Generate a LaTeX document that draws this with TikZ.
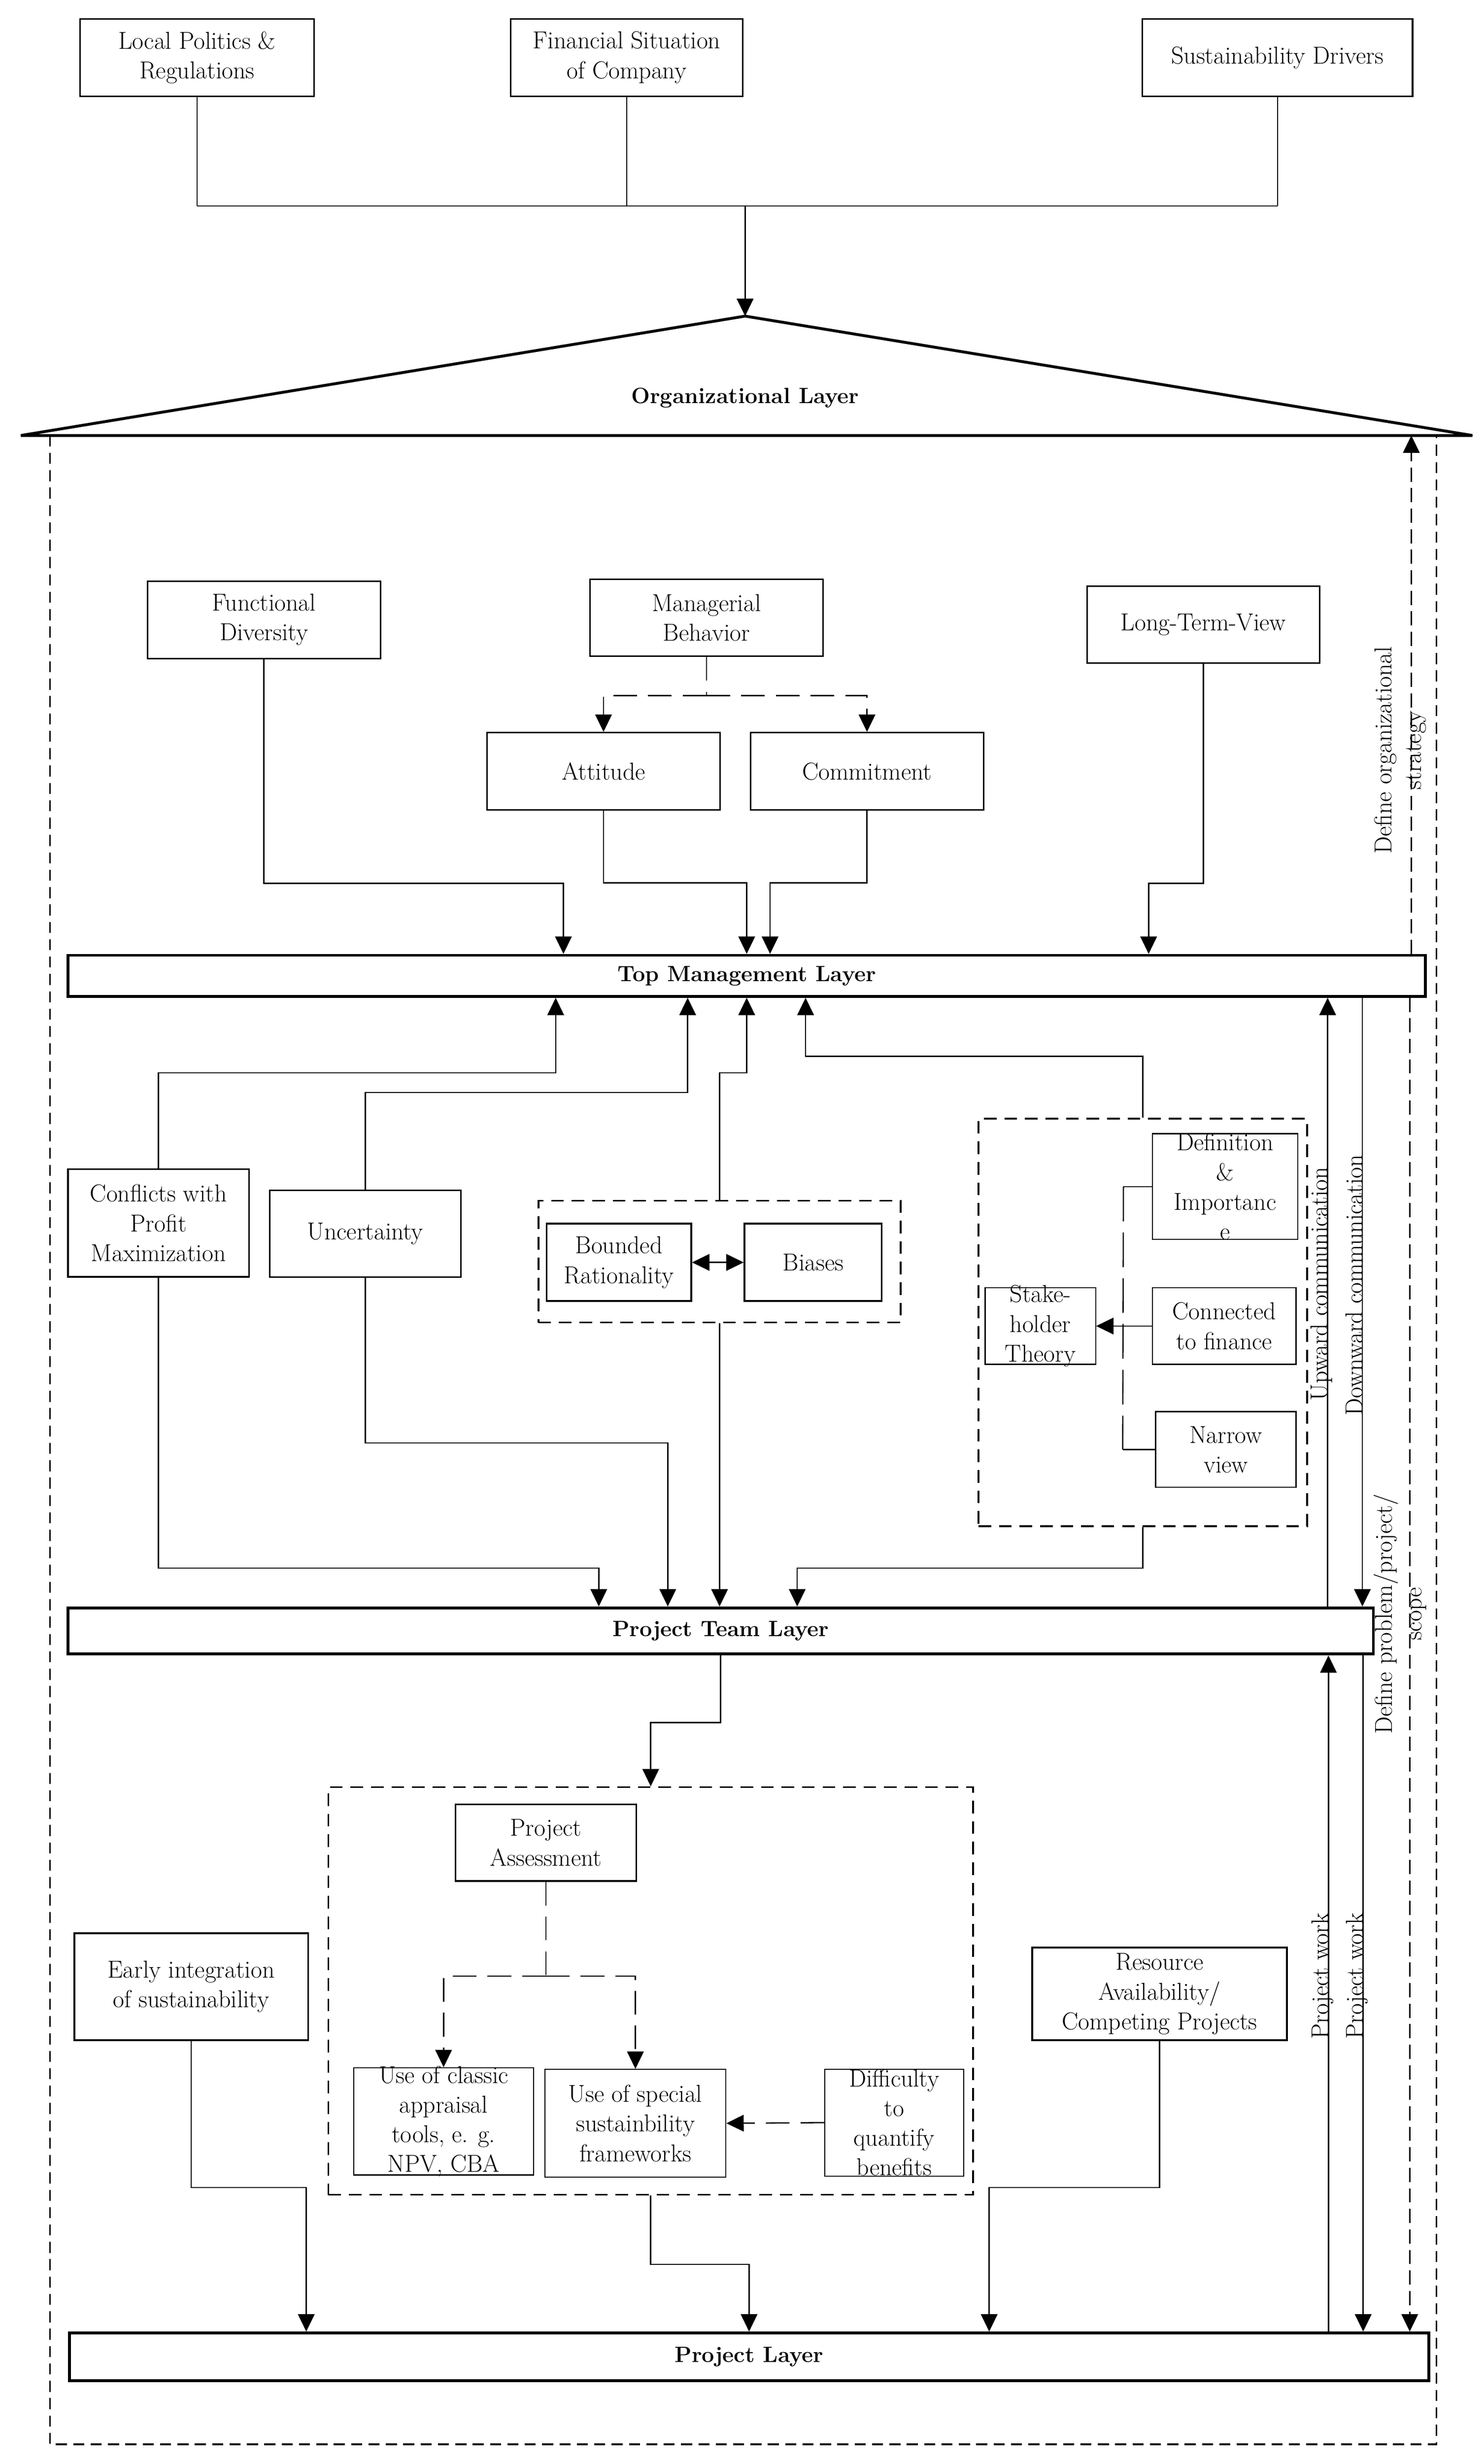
\documentclass[tikz,border=0pt]{standalone}
\usetikzlibrary{arrows.meta}
\tikzset{
  every node/.style={font=\fontsize{15.5}{18.8}\selectfont},
  box/.style={draw, line width=1pt, fill=white, align=center, inner xsep=1pt, inner ysep=0pt},
  thinbox/.style={box, line width=0.7pt},
  layerbox/.style={draw, line width=1.8pt, fill=white, inner sep=0pt, font=\fontsize{14}{17}\selectfont\bfseries},
  grp/.style={draw, line width=1.1pt, dash pattern=on 8pt off 5pt, inner sep=0pt},
  arr/.style={-{Triangle[length=11pt,width=10.5pt]}},
  link/.style={line width=0.8pt},
  longdash/.style={dash pattern=on 15pt off 7pt},
  sidedash/.style={dash pattern=on 9pt off 4pt},
  vlabel/.style={rotate=90, anchor=base, inner sep=0pt},
}
\begin{document}
\begin{tikzpicture}[x=1pt, y=-1pt]
	\useasboundingbox (0,0) rectangle (940,1560.5);
	\draw[line width=1pt, dash pattern=on 7pt off 4pt] (31.6,275.8) rectangle (910,1548);
	%
	% Organizational layer
	%
	\coordinate (apex) at (472,200.2);
	\coordinate (orgL) at (13.2,275.8);
	\coordinate (orgR) at (932.7,275.8);
	\draw[line width=1.8pt, fill=white] (orgL) -- (apex) -- (orgR) -- cycle;
	\node[font=\fontsize{14}{17}\selectfont\bfseries] (orglbl) at (472,252) {Organizational Layer};
	\node[box, minimum width=148.4pt, minimum height=49.1pt] (local) at (124.8,36.45) {Local Politics \&\\Regulations};
	\node[box, minimum width=147.1pt, minimum height=49.1pt] (fin) at (397,36.45) {Financial Situation\\of Company};
	\node[box, minimum width=171.2pt, minimum height=49.1pt] (drivers) at (809.2,36.45) {Sustainability Drivers};
	\coordinate (join) at (472,130.5);
	\foreach \n in {local,fin,drivers}{
		\draw[link] (\n.south) -- (\n.south |- join);
	}
	\draw[link] (local.south |- join) -- (drivers.south |- join);
	\draw[link, arr] (join) -- (apex);
	%
	% Top management
	%
	\node[box, minimum width=147.7pt, minimum height=49pt] (func) at (167.2,392.5) {Functional\\Diversity};
	\node[box, minimum width=147.7pt, minimum height=48.7pt] (manag) at (447.5,391.2) {Managerial\\Behavior};
	\node[box, minimum width=147.5pt, minimum height=48.6pt] (ltv) at (762.3,395.6) {Long-Term-View};
	\node[box, minimum width=147.5pt, minimum height=49pt] (att) at (382.3,488.5) {Attitude};
	\node[box, minimum width=147.6pt, minimum height=49pt] (commit) at (549.2,488.5) {Commitment};
	\node[layerbox, minimum width=860pt, minimum height=26pt] (tml) at (473,618) {Top Management Layer};
	\draw[link, longdash] (manag.south) -- ++(0,24.5) coordinate (mj);
	\draw[link, longdash, arr] (mj) -| (att.north);
	\draw[link, longdash, arr] (mj) -| (commit.north);
	\draw[link, arr] (func.south) -- ++(0,142) -| ([xshift=-116.1pt]tml.north);
	\draw[link, arr] (att.south) -- ++(0,45.6) -| (tml.north);
	\draw[link, arr] (commit.south) -- ++(0,45.6) -| ([xshift=14.8pt]tml.north);
	\draw[link, arr] (ltv.south) -- ++(0,139.1) -| ([xshift=254.6pt]tml.north);
	%
	% Between top management and project team
	%
	\node[box, line width=1.2pt, minimum width=114.7pt, minimum height=68.3pt] (confl) at (100.4,774.6) {Conflicts with\\Profit\\Maximization};
	\node[box, minimum width=121.2pt, minimum height=54.9pt] (uncert) at (231.4,781.3) {Uncertainty};
	\node[grp, minimum width=229.5pt, minimum height=77.1pt] (bgrp) at (455.8,799) {};
	\node[box, line width=1.2pt, minimum width=91.5pt, minimum height=49.1pt] (bounded) at (392,799.5) {Bounded\\Rationality};
	\node[box, line width=1.2pt, minimum width=86.8pt, minimum height=49.1pt] (biases) at (515.1,799.5) {Biases};
	\draw[link, {Triangle[length=11pt,width=10.5pt]}-{Triangle[length=11pt,width=10.5pt]}] (bounded) -- (biases);
	\node[grp, minimum width=208.2pt, minimum height=258.1pt] (sgrp) at (723.9,837.5) {};
	\node[thinbox, minimum width=70pt, minimum height=48.5pt, inner ysep=-4pt] (stake) at (659,839.8) {Stake-\\holder\\Theory};
	\node[thinbox, minimum width=92pt, minimum height=67pt, inner ysep=-4pt] (defin) at (776,751.5) {Definition\\\&\\Importanc\\e};
	\node[thinbox, minimum width=91pt, minimum height=48.5pt] (conn) at (775.5,839.8) {Connected\\to finance};
	\node[thinbox, minimum width=89pt, minimum height=48pt] (narrow) at (776.5,918) {Narrow\\view};
	\draw[link] (defin.west) -- ++(-18,0) coordinate (br1);
	\draw[link] (narrow.west) -- ++(-20.5,0) coordinate (br2);
	\draw[link, dash pattern=on 22pt off 7pt] (br1) -- (br2);
	\draw[link, arr] (conn.west) -- (stake.east);
	\draw[link, arr] (confl.north) -- ++(0,-60.4) -| ([xshift=-121pt]tml.south);
	\draw[link, arr] (uncert.north) -- ++(0,-61.4) -| ([xshift=-37.4pt]tml.south);
	\draw[link, arr] (bgrp.north) -- ++(0,-80.4) -| (tml.south);
	\draw[link, arr] (sgrp.north) -- ++(0,-39) -| ([xshift=37.3pt]tml.south);
	\node[layerbox, minimum width=827pt, minimum height=29.2pt] (ptl) at (456.5,1032.9) {Project Team Layer};
	\draw[link, arr] (confl.south) -- ++(0,183.8) -| ([xshift=-77.2pt]ptl.north);
	\draw[link, arr] (uncert.south) -- ++(0,104.5) -| ([xshift=-33.5pt]ptl.north);
	\draw[link, arr] (bgrp.south) -- (bgrp.south |- ptl.north);
	\draw[link, arr] (sgrp.south) -- ++(0,26) -| ([xshift=48.5pt]ptl.north);
	%
	% Project level
	%
	\node[grp, minimum width=408.5pt, minimum height=258.1pt] (agrp) at (412.2,1260.9) {};
	\node[box, minimum width=114.4pt, minimum height=48.5pt] (assess) at (345.8,1167) {Project\\Assessment};
	\node[box, line width=1.2pt, minimum width=148.2pt, minimum height=67.9pt] (early) at (121.1,1258.2) {Early integration\\of sustainability};
	\node[thinbox, minimum width=114pt, minimum height=67.9pt, inner ysep=-4pt] (classic) at (281,1343.5) {Use of classic\\appraisal\\tools, e. g.\\NPV, CBA};
	\node[thinbox, minimum width=114.5pt, minimum height=68.2pt] (special) at (402.5,1344.7) {Use of special\\sustainbility\\frameworks};
	\node[thinbox, minimum width=87.9pt, minimum height=67.8pt, inner ysep=-4pt] (diffic) at (566.4,1344.3) {Difficulty\\to\\quantify\\benefits};
	\node[box, line width=1.2pt, minimum width=161.5pt, minimum height=58.7pt] (resource) at (734.5,1262.8) {Resource\\Availability/\\Competing Projects};
	\node[layerbox, minimum width=861pt, minimum height=30.2pt] (pl) at (474.5,1492.6) {Project Layer};
	\draw[link, arr] (ptl.south) -- ++(0,42.5) -| (agrp.north);
	\draw[link, longdash] (assess.south) -- ++(0,59.8) coordinate (aj);
	\draw[link, longdash, arr] (aj) -| (classic.north);
	\draw[link, longdash, arr] (aj) -| (special.north);
	\draw[link, longdash, arr] (diffic.west) -- (special.east);
	\draw[link, arr] (early.south) -- ++(0,92.7) -| ([xshift=-280.5pt]pl.north);
	\draw[link, arr] (agrp.south) -- ++(0,43.6) -| (pl.north);
	\draw[link, arr] (resource.south) -- ++(0,92.7) -| ([xshift=152.1pt]pl.north);
	%
	% Communication between layers
	%
	\coordinate (cu) at ([xshift=384.5pt]ptl.north);
	\coordinate (cd) at ([xshift=390pt]tml.south);
	\coordinate (pu) at ([xshift=367pt]pl.north);
	\coordinate (pd) at ([xshift=407pt]ptl.south);
	\coordinate (so) at ([xshift=421pt]tml.north);
	\coordinate (sp) at ([xshift=420pt]tml.south);
	\draw[link, arr] (cu) -- (cu |- tml.south) node[vlabel, pos=0.53] (upc) {Upward communication};
	\draw[link, arr] (cd) -- (cd |- ptl.north) node[vlabel, pos=0.472] (downc) {Downward communication};
	\draw[link, arr] (pu) -- (pu |- ptl.south) node[vlabel, pos=0.526] (pwu) {Project work};
	\draw[link, arr] (pd) -- (pd |- pl.north) node[vlabel, pos=0.474] (pwd) {Project work};
	\draw[link, sidedash, arr] (so) -- (so |- orgL) node[pos=0.393, xshift=-7pt, rotate=90, align=center, inner sep=0pt] (strat) {Define organizational\\strategy};
	\draw[link, sidedash, arr] (sp) -- (sp |- pl.north) node[pos=0.462, xshift=-6pt, rotate=90, align=center, inner sep=0pt] (scope) {Define problem/project/\\scope};
\end{tikzpicture}
\end{document}
